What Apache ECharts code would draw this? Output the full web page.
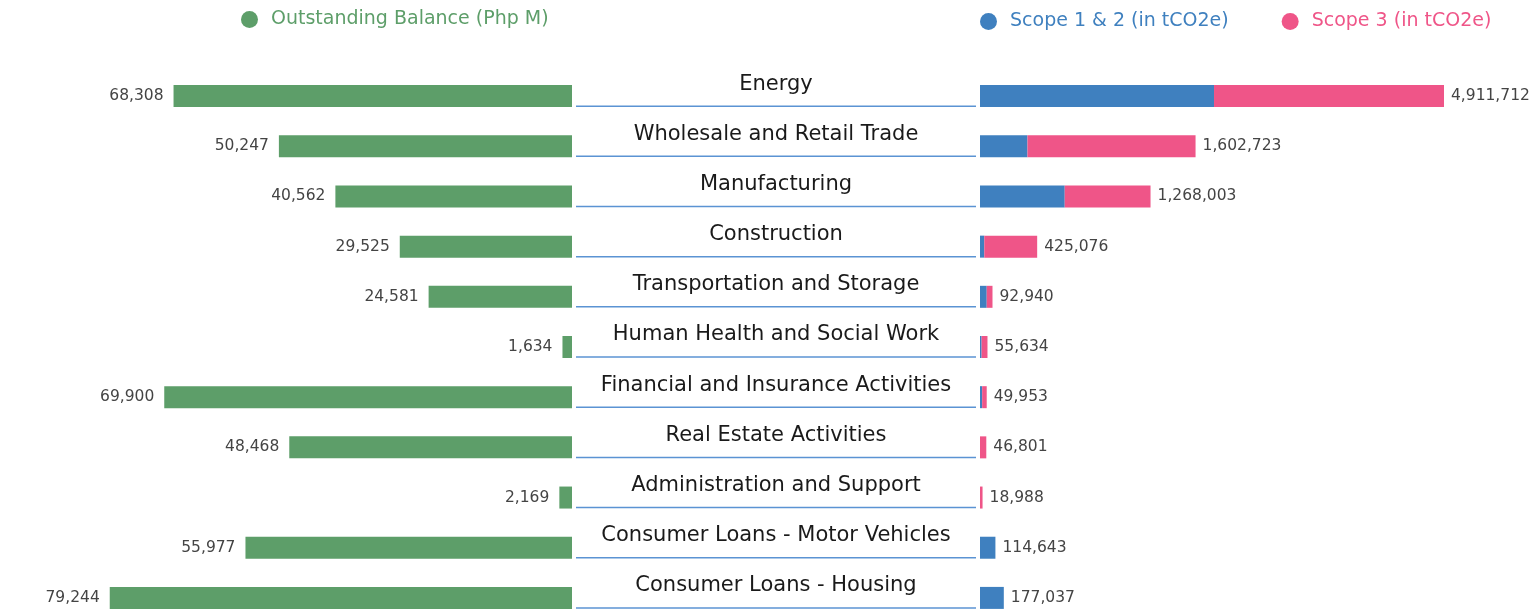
<!DOCTYPE html>
<html>
<head>
<meta charset="utf-8">
<title>Outstanding Balance vs Financed Emissions</title>
<script src="https://cdn.jsdelivr.net/npm/echarts@6/dist/echarts.min.js"></script>
<style>
    html, body { margin: 0; padding: 0; background: #fff; }
    #chart { width: 1529px; height: 611px; }
</style>
</head>
<body>
<div id="chart"></div>
<script>
// 行业分类
const sectors = [
    'Energy',
    'Wholesale and Retail Trade',
    'Manufacturing',
    'Construction',
    'Transportation and Storage',
    'Human Health and Social Work',
    'Financial and Insurance Activities',
    'Real Estate Activities',
    'Administration and Support',
    'Consumer Loans - Motor Vehicles',
    'Consumer Loans - Housing'
];

// 贷款余额 (Php M)
const outstandingBalance = [68308, 50247, 40562, 29525, 24581, 1634, 69900, 48468, 2169, 55977, 79244];

// 排放总量（标签）
const totalEmissions = [4911712, 1602723, 1268003, 425076, 92940, 55634, 49953, 46801, 18988, 114643, 177037];

// 范围1&2 / 范围3（按图中比例估读）
const scope12 = [1740000, 353000, 630000, 32000, 50000, 12000, 16000, 0, 0, 114643, 177037];
const scope3 = totalEmissions.map((t, i) => t - scope12[i]);

const COLOR_GREEN = '#5d9e69';
const COLOR_BLUE = '#3f80bf';
const COLOR_PINK = '#ef5588';
const FONT = '"DejaVu Sans", sans-serif';

const fmt = v => Number(v).toLocaleString('en-US');

const chart = echarts.init(document.getElementById('chart'));

const labelStyle = {
    show: true,
    color: '#444',
    fontSize: 15.5,
    fontFamily: FONT
};

chart.setOption({
    animation: false,
    legend: [
        {
            left: 241,
            top: 10,
            padding: 0,
            itemWidth: 17,
            itemHeight: 17,
            icon: 'circle',
            textStyle: { fontSize: 19, fontFamily: FONT, color: COLOR_GREEN, padding: [0, 0, 0, 8] },
            data: ['Outstanding Balance (Php M)']
        },
        {
            left: 980,
            top: 12,
            padding: 0,
            itemWidth: 17,
            itemHeight: 17,
            itemGap: 53,
            icon: 'circle',
            textStyle: { fontSize: 19, fontFamily: FONT, padding: [0, 0, 0, 8] },
            data: [
                { name: 'Scope 1 & 2 (in tCO2e)', textStyle: { color: COLOR_BLUE } },
                { name: 'Scope 3 (in tCO2e)', textStyle: { color: COLOR_PINK } }
            ]
        }
    ],
    grid: [
        { left: 82, width: 490, top: 71, height: 552, outerBoundsMode: 'none' },
        { left: 576, width: 400, top: 71, height: 552, outerBoundsMode: 'none' },
        { left: 980, width: 464, top: 71, height: 552, outerBoundsMode: 'none' }
    ],
    xAxis: [
        { gridIndex: 0, type: 'value', inverse: true, min: 0, max: 84000, show: false },
        { gridIndex: 1, type: 'value', min: 0, max: 1, show: false },
        { gridIndex: 2, type: 'value', min: 0, max: 3450000, show: false }
    ],
    yAxis: [
        {
            gridIndex: 0, type: 'category', inverse: true, data: sectors,
            axisLine: { show: false }, axisTick: { show: false }, axisLabel: { show: false }
        },
        {
            gridIndex: 1, type: 'category', inverse: true, data: sectors,
            axisLine: { show: false }, axisTick: { show: false }, axisLabel: { show: false }
        },
        {
            gridIndex: 2, type: 'category', inverse: true, data: sectors,
            axisLine: { show: false }, axisTick: { show: false },
            axisLabel: {
                margin: 204,
                align: 'center',
                verticalAlign: 'bottom',
                lineHeight: 24,
                fontSize: 21,
                fontFamily: FONT,
                color: '#1a1a1a'
            }
        }
    ],
    series: [
        {
            name: 'Outstanding Balance (Php M)',
            type: 'bar',
            xAxisIndex: 0,
            yAxisIndex: 0,
            barWidth: 22,
            itemStyle: { color: COLOR_GREEN },
            label: Object.assign({}, labelStyle, {
                position: 'left',
                distance: 10,
                formatter: p => fmt(p.value)
            }),
            data: outstandingBalance
        },
        {
            // 分类名称下划线
            type: 'custom',
            xAxisIndex: 1,
            yAxisIndex: 1,
            silent: true,
            renderItem: function (params, api) {
                const idx = api.value(0);
                const p0 = api.coord([0, idx]);
                const p1 = api.coord([1, idx]);
                const off = api.size([0, 1])[1] * 0.2;
                return {
                    type: 'line',
                    shape: { x1: p0[0], y1: p0[1] + off, x2: p1[0], y2: p1[1] + off },
                    style: { stroke: '#5b93d3', lineWidth: 1.5 }
                };
            },
            data: sectors.map((s, i) => [i])
        },
        {
            name: 'Scope 1 & 2 (in tCO2e)',
            type: 'bar',
            xAxisIndex: 2,
            yAxisIndex: 2,
            stack: 'emission',
            barWidth: 22,
            itemStyle: { color: COLOR_BLUE },
            data: scope12
        },
        {
            name: 'Scope 3 (in tCO2e)',
            type: 'bar',
            xAxisIndex: 2,
            yAxisIndex: 2,
            stack: 'emission',
            barWidth: 22,
            itemStyle: { color: COLOR_PINK },
            label: Object.assign({}, labelStyle, {
                position: 'right',
                distance: 7,
                formatter: p => fmt(totalEmissions[p.dataIndex])
            }),
            data: scope3
        }
    ]
});
</script>
</body>
</html>
